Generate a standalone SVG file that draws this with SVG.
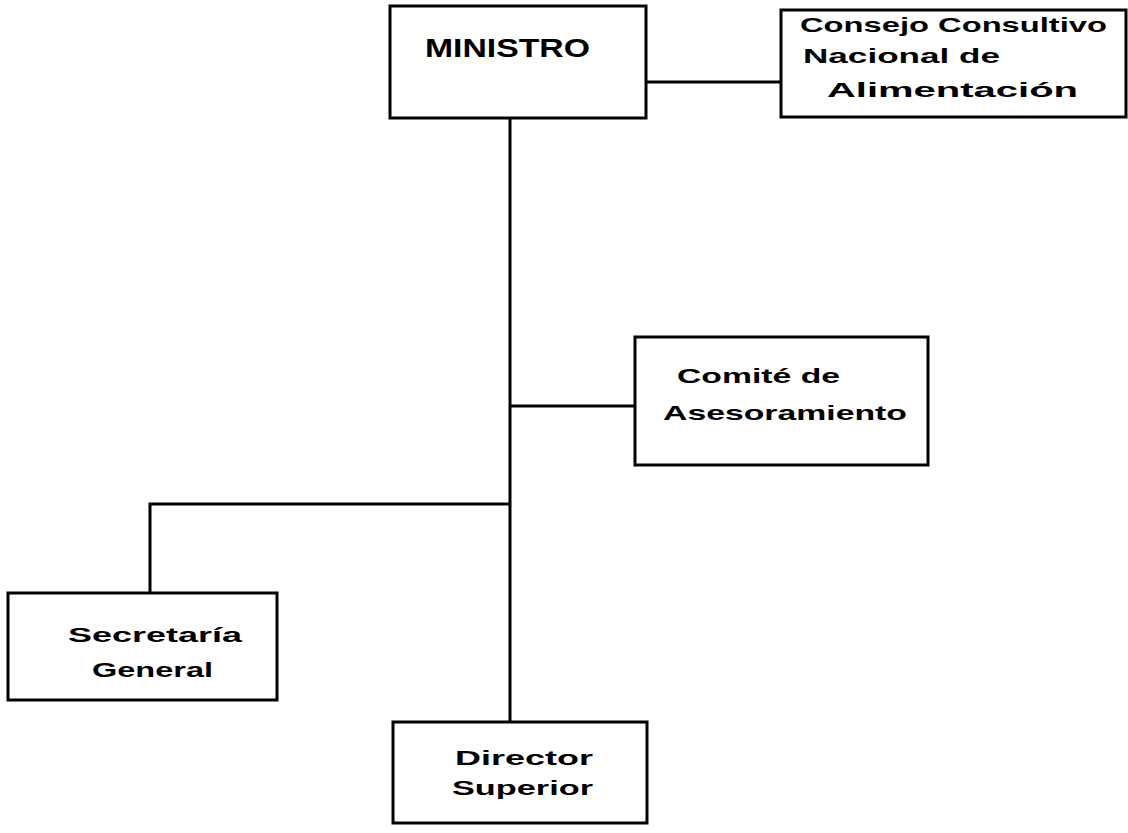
<svg xmlns="http://www.w3.org/2000/svg" width="1128" height="833" viewBox="0 0 1128 833">
<style>
.box{fill:#fff;stroke:#000;stroke-width:3}
.ln{fill:none;stroke:#000;stroke-width:3}
.t{font-family:"Liberation Sans",Arial,sans-serif;font-weight:bold;font-size:21px;fill:#000}
.big{font-size:26px}
</style>
<rect width="1128" height="833" fill="#fff"/>
<g id="connectors">
<line class="ln" x1="510" y1="118" x2="510" y2="722"/>
<line class="ln" x1="646" y1="82" x2="781" y2="82"/>
<line class="ln" x1="510" y1="406" x2="635" y2="406"/>
<polyline class="ln" points="510,504 150,504 150,593"/>
</g>
<g id="ministro">
<rect class="box" x="390" y="6" width="256" height="112"/>
<text class="t big" x="425" y="57" textLength="165" lengthAdjust="spacingAndGlyphs">MINISTRO</text>
</g>
<g id="consejo">
<rect class="box" x="781" y="10" width="345" height="107"/>
<text class="t" x="800" y="32" textLength="307" lengthAdjust="spacingAndGlyphs">Consejo Consultivo</text>
<text class="t" x="803" y="63" textLength="197" lengthAdjust="spacingAndGlyphs">Nacional  de</text>
<text class="t" x="827" y="97" textLength="251" lengthAdjust="spacingAndGlyphs">Alimentación</text>
</g>
<g id="comite">
<rect class="box" x="635" y="337" width="293" height="128"/>
<text class="t" x="677" y="383" textLength="163" lengthAdjust="spacingAndGlyphs">Comité de</text>
<text class="t" x="663" y="420" textLength="244" lengthAdjust="spacingAndGlyphs">Asesoramiento</text>
</g>
<g id="secretaria">
<rect class="box" x="8" y="593" width="269" height="107"/>
<text class="t" x="68" y="642" textLength="174" lengthAdjust="spacingAndGlyphs">Secretaría</text>
<text class="t" x="92" y="677" textLength="121" lengthAdjust="spacingAndGlyphs">General</text>
</g>
<g id="director">
<rect class="box" x="393" y="722" width="254" height="101"/>
<text class="t" x="455" y="765" textLength="138" lengthAdjust="spacingAndGlyphs">Director</text>
<text class="t" x="452" y="795" textLength="141" lengthAdjust="spacingAndGlyphs">Superior</text>
</g>
</svg>
